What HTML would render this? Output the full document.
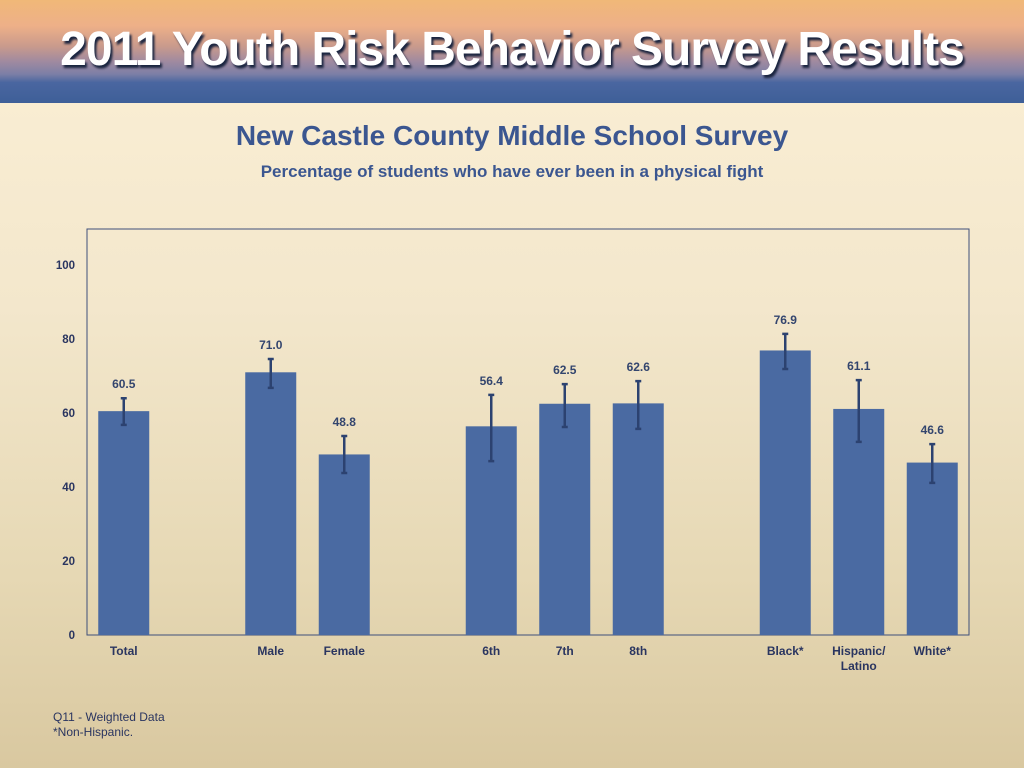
<!DOCTYPE html>
<html><head><meta charset="utf-8"><style>
html,body{margin:0;padding:0}
body{width:1024px;height:768px;overflow:hidden;position:relative;font-family:"Liberation Sans",sans-serif;background:linear-gradient(#fcf0d6 0%,#f3e7cc 40%,#e6d8b4 75%,#d9c8a0 100%)}
#banner{position:absolute;left:0;top:0;width:1024px;height:103px;background:linear-gradient(#f0b878 0%,#eeb088 25%,#c99a8c 45%,#9f8aa0 60%,#7c7fa6 72%,#4a66a0 80%,#3e5f98 100%)}
#banner-title{position:absolute;left:0;width:1024px;top:22px;text-align:center;color:#fff;font-weight:bold;font-size:48px;letter-spacing:-1px;text-shadow:2px 3px 2px #1a2540;font-family:"Liberation Sans Narrow","Liberation Sans",sans-serif}
#title{position:absolute;left:0;width:1024px;top:120px;text-align:center;color:#3b5690;font-weight:bold;font-size:28px}
#subtitle{position:absolute;left:0;width:1024px;top:162px;text-align:center;color:#3b5690;font-weight:bold;font-size:17px}
.note{position:absolute;left:53px;font-size:12px;color:#2a3560}
</style></head><body>
<div id="banner"><div id="banner-title">2011 Youth Risk Behavior Survey Results</div></div>
<div id="title">New Castle County Middle School Survey</div>
<div id="subtitle">Percentage of students who have ever been in a physical fight</div>
<svg id="chart" width="1024" height="768" style="position:absolute;left:0;top:0"></svg>
<div class="note" style="top:710px">Q11 - Weighted Data</div>
<div class="note" style="top:725px">*Non-Hispanic.</div>
<script>
const categories=["Total","","Male","Female","","6th","7th","8th","","Black*","Hispanic/\nLatino","White*"];
const values=[60.5,null,71.0,48.8,null,56.4,62.5,62.6,null,76.9,61.1,46.6];
const errHigh=[64.0,null,74.6,53.8,null,64.9,67.8,68.6,null,81.4,68.9,51.6];
const errLow=[56.8,null,66.8,43.8,null,47.0,56.2,55.7,null,71.9,52.2,41.1];
const yTicks=[0,20,40,60,80,100];
const NS="http://www.w3.org/2000/svg";
const svg=document.getElementById('chart');
const L=87,R=969,T=229,B=635;
const slot=(R-L)/categories.length;
const y=v=>B-v*3.7;
const xc=i=>L+slot*(i+0.5);
function mk(t,a){const e=document.createElementNS(NS,t);for(const k in a)e.setAttribute(k,a[k]);svg.appendChild(e);return e;}
const frame=mk('rect',{x:L,y:T,width:R-L,height:B-T,fill:'none',stroke:'#3e4f7a','stroke-width':1});


yTicks.forEach(t=>{const tx=mk('text',{x:75,y:y(t)+4,'text-anchor':'end','font-size':11.5,'font-weight':'bold',fill:'#2a3560'});tx.textContent=t;

});
categories.forEach((c,i)=>{
 if(values[i]!=null){
  const bar=mk('rect',{x:xc(i)-25.5,y:y(values[i]),width:51,height:B-y(values[i]),fill:'#4a6aa2'});
  
  
  const g=mk('path',{d:`M${xc(i)} ${y(errHigh[i])}V${y(errLow[i])}M${xc(i)-3} ${y(errHigh[i])}h6M${xc(i)-3} ${y(errLow[i])}h6`,stroke:'#2c4270','stroke-width':2.5,fill:'none'});
  
  
  const lb=mk('text',{x:xc(i),y:y(errHigh[i])-10,'text-anchor':'middle','font-size':12,'font-weight':'bold',fill:'#33456e'});
  lb.textContent=values[i].toFixed(1);
  
  
 }
 if(c){c.split('\n').forEach((ln,j)=>{const t=mk('text',{x:xc(i),y:655+j*15,'text-anchor':'middle','font-size':12,'font-weight':'bold',fill:'#2a3560'});t.textContent=ln;
 
 });}
});
</script>
</body></html>
